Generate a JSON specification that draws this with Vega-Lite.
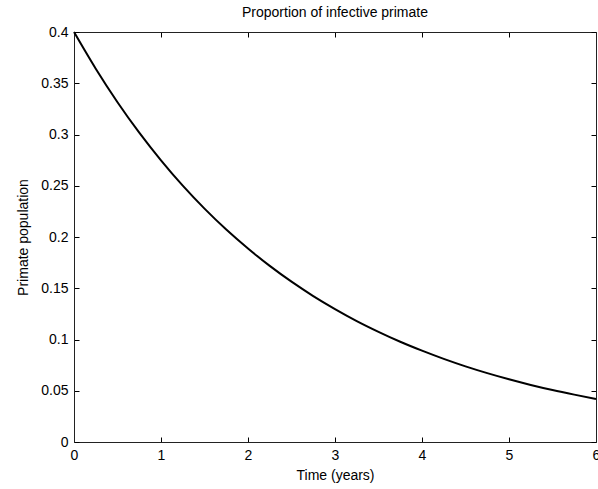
{
  "$schema": "https://vega.github.io/schema/vega-lite/v6.json",
  "autosize": "none",
  "width": 522,
  "height": 410,
  "padding": {"left": 74, "top": 32, "right": 2, "bottom": 47},
  "background": "white",
  "title": {"text": "Proportion of infective primate", "font": "Liberation Sans", "fontSize": 14, "fontWeight": "normal", "color": "black", "offset": 5},
  "config": {
    "view": {"stroke": null},
    "axis": {"labelFont": "Liberation Sans", "titleFont": "Liberation Sans", "labelFontSize": 14, "titleFontSize": 14, "titleFontWeight": "normal", "labelColor": "black", "titleColor": "black", "domainColor": "#222", "tickColor": "#000", "tickWidth": 1, "grid": false, "tickSize": -5, "labelPadding": 11, "format": "~g"}
  },
  "data": {"values": [
    {"t": 0, "p": 0.4}, {"t": 0.25, "p": 0.3642}, {"t": 0.5, "p": 0.3315}, {"t": 0.75, "p": 0.3018},
    {"t": 1, "p": 0.2748}, {"t": 1.25, "p": 0.2501}, {"t": 1.5, "p": 0.2277}, {"t": 1.75, "p": 0.2073},
    {"t": 2, "p": 0.1888}, {"t": 2.25, "p": 0.1718}, {"t": 2.5, "p": 0.1564}, {"t": 2.75, "p": 0.1424},
    {"t": 3, "p": 0.1297}, {"t": 3.25, "p": 0.118}, {"t": 3.5, "p": 0.1075}, {"t": 3.75, "p": 0.0978},
    {"t": 4, "p": 0.0891}, {"t": 4.25, "p": 0.0811}, {"t": 4.5, "p": 0.0738}, {"t": 4.75, "p": 0.0672},
    {"t": 5, "p": 0.0612}, {"t": 5.25, "p": 0.0557}, {"t": 5.5, "p": 0.0507}, {"t": 5.75, "p": 0.0462},
    {"t": 6, "p": 0.042}
  ]},
  "layer": [
    {
      "mark": {"type": "line", "color": "black", "strokeWidth": 2, "interpolate": "monotone"},
      "encoding": {
        "x": {"field": "t", "type": "quantitative", "scale": {"domain": [0, 6], "nice": false}, "axis": {"title": "Time (years)", "values": [0, 1, 2, 3, 4, 5, 6], "titlePadding": 6, "labelFlush": false, "format": "~g"}},
        "y": {"field": "p", "type": "quantitative", "scale": {"domain": [0, 0.4], "nice": false, "zero": false}, "axis": {"title": "Primate population", "values": [0, 0.05, 0.1, 0.15, 0.2, 0.25, 0.3, 0.35, 0.4], "titlePadding": 10, "labelPadding": 11, "labelFlush": false, "format": "~g"}}
      }
    },
    {
      "mark": {"type": "line", "opacity": 0},
      "encoding": {
        "x": {"field": "t", "type": "quantitative", "scale": {"domain": [0, 6], "nice": false}, "axis": {"orient": "top", "title": null, "labels": false, "tickSize": -5, "values": [0, 1, 2, 3, 4, 5, 6]}},
        "y": {"field": "p", "type": "quantitative", "scale": {"domain": [0, 0.4], "nice": false, "zero": false}, "axis": {"orient": "right", "title": null, "labels": false, "tickSize": -5, "values": [0, 0.05, 0.1, 0.15, 0.2, 0.25, 0.3, 0.35, 0.4]}}
      }
    }
  ],
  "resolve": {"axis": {"x": "independent", "y": "independent"}}
}
